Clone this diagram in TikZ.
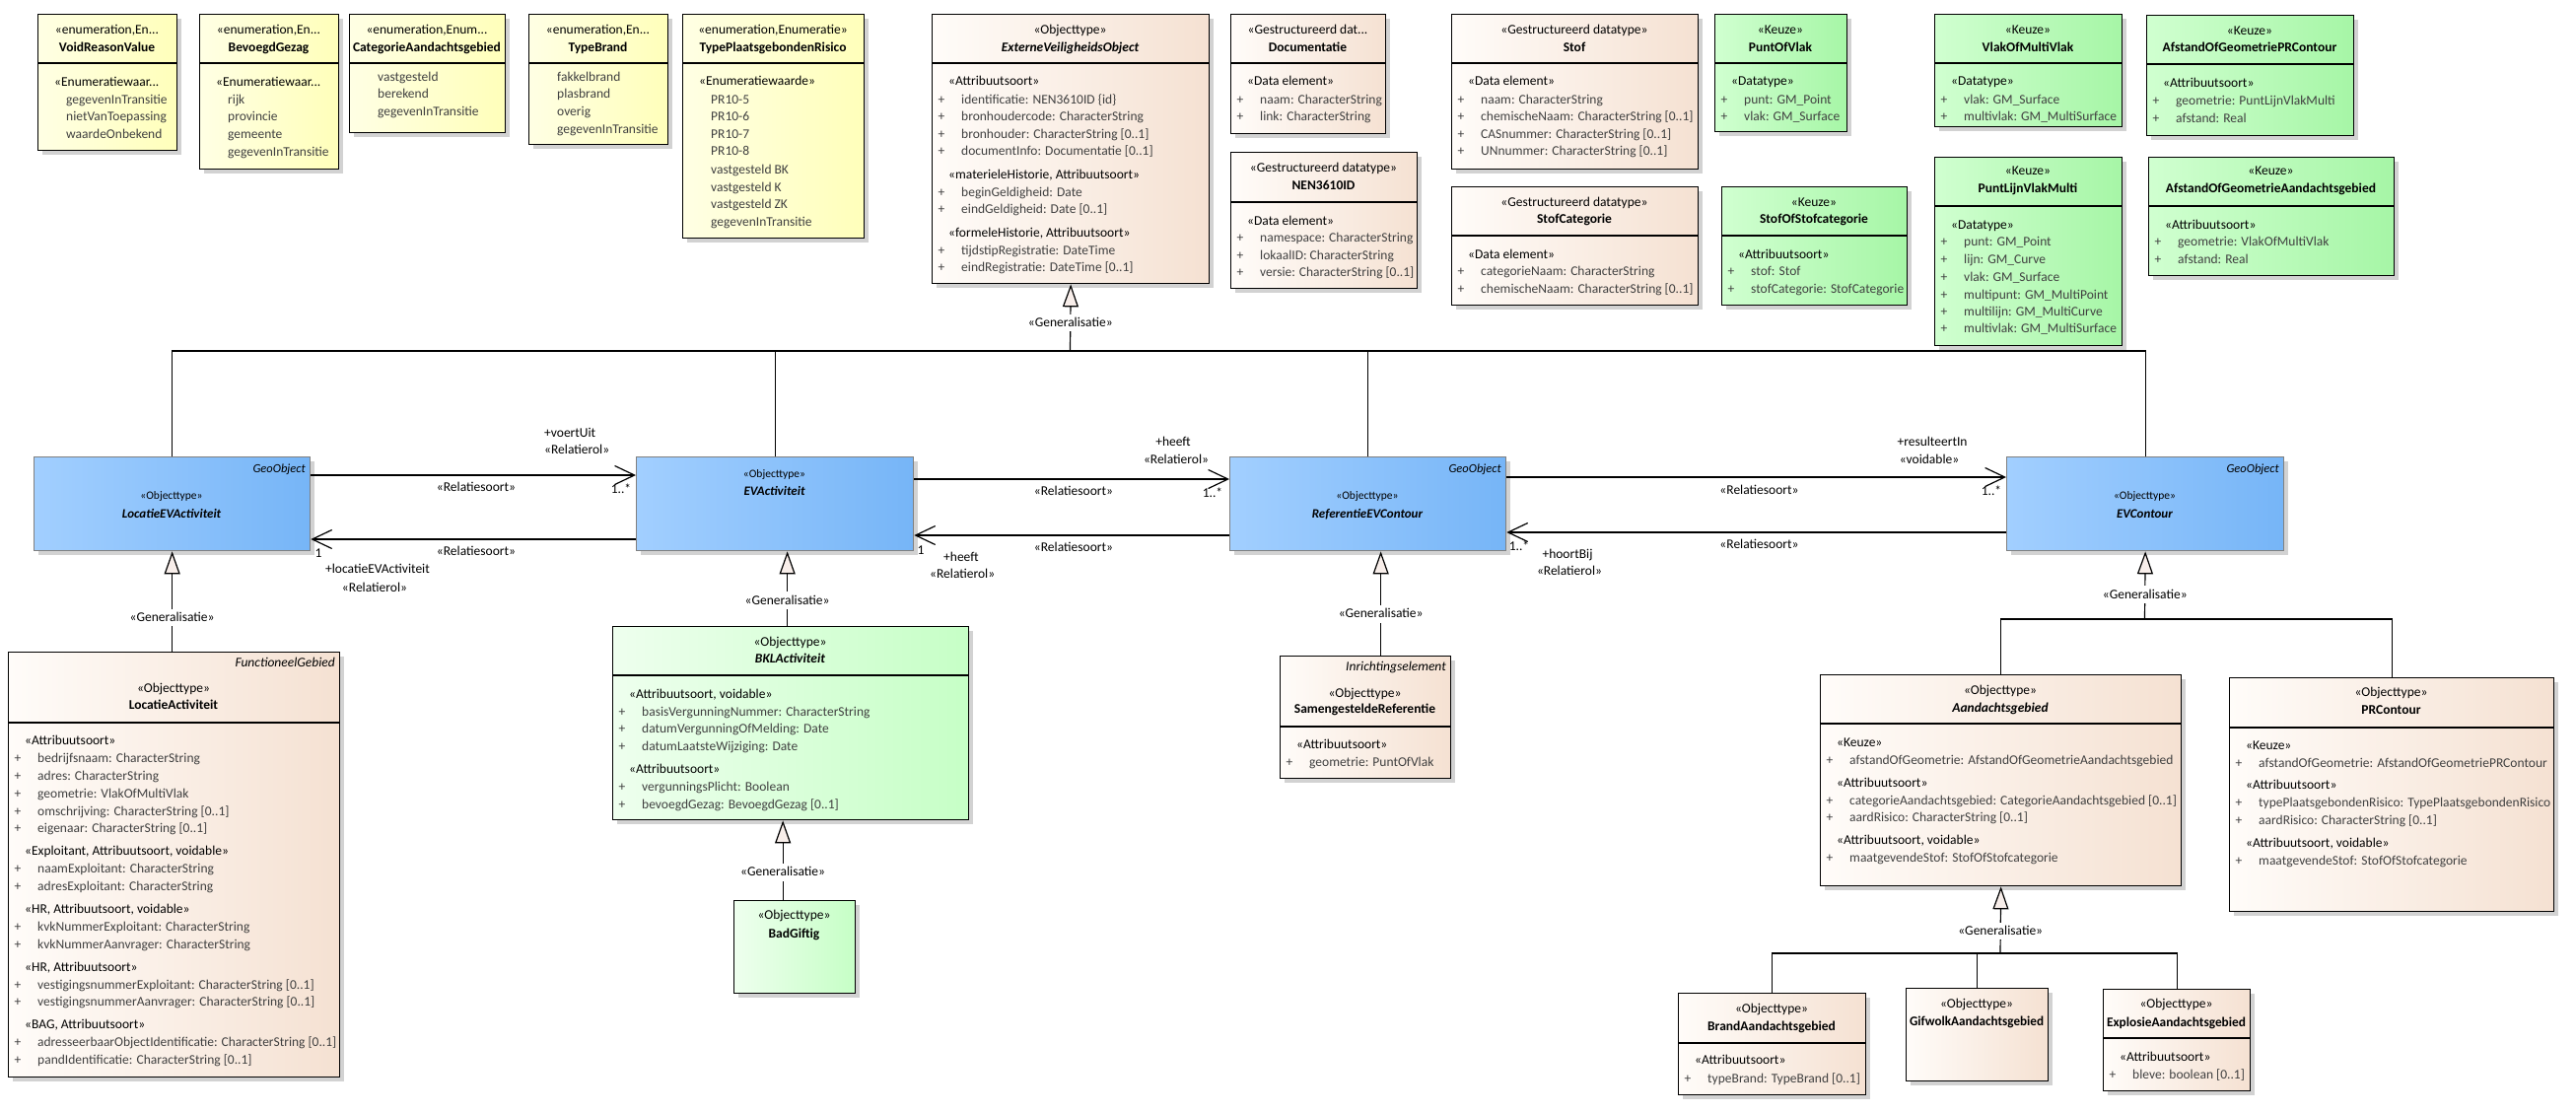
\documentclass[tikz,border=0pt]{standalone}
\usepackage{fontspec}
\setmainfont{Carlito}
\usepackage{graphicx}
\usetikzlibrary{arrows.meta,calc}
\definecolor{enumL}{RGB}{255,255,228}
\definecolor{enumR}{RGB}{255,255,186}
\definecolor{peachL}{RGB}{255,252,249}
\definecolor{peachR}{RGB}{245,225,210}
\definecolor{keuzeL}{RGB}{208,255,208}
\definecolor{keuzeR}{RGB}{166,246,166}
\definecolor{lgreenL}{RGB}{238,255,238}
\definecolor{lgreenR}{RGB}{198,255,198}
\definecolor{blueL}{RGB}{162,207,255}
\definecolor{blueR}{RGB}{118,181,247}
\definecolor{blueB}{RGB}{128,128,128}
\definecolor{shadowc}{RGB}{210,210,210}
\definecolor{attrc}{RGB}{64,64,64}
\definecolor{trifill}{RGB}{248,238,234}
\newcounter{Utc}
\newlength\Ufitw
\newsavebox\Ufitbox
\newcommand\Ufit[2]{\setlength\Ufitw{#1}\sbox\Ufitbox{#2}%
  \ifdim\wd\Ufitbox>\Ufitw\resizebox{\Ufitw}{\height}{\usebox\Ufitbox}\else\usebox\Ufitbox\fi}
\newcommand\Utn[4][]{\stepcounter{Utc}\node[txt,#1] (t\arabic{Utc}) at ({#2},{#3}) {#4};}
\newcommand\Ubox[7]{\xdef\UL{#3}\xdef\UR{#5}%
  \fill[shadowc] ({#3+5},{#4+5}) rectangle ({#5+5},{#6+5});
  \node[#2, anchor=north west, minimum width={#5-#3}, minimum height={#6-#4}] (#1) at (#3,#4) {};
  \if\relax\detokenize{#7}\relax\else\draw[divl] (#3,#7) -- (#5,#7);\fi}
\newcommand\Uhd[3][]{\Utn[anchor=center,#1]{(\UL+\UR)/2}{#2}{\Ufit{\dimexpr\UR pt-\UL pt-8pt\relax}{#3}}}
\newcommand\Ulab[3][]{\Utn[anchor=east,#1]{\UR-4}{#2}{#3}}
\newcommand\Ust[2]{\Utn[anchor=west]{\UL+17}{#1}{\Ufit{\dimexpr\UR pt-\UL pt-20pt\relax}{#2}}}
\newcommand\Uval[2]{\Utn[anchor=west,attr]{\UL+29}{#1}{\Ufit{\dimexpr\UR pt-\UL pt-31pt\relax}{#2}}}
\newcommand\Uatr[2]{\Utn[anchor=center,attr]{\UL+10}{#1}{+}\Utn[anchor=west,attr]{\UL+30}{#1}{\Ufit{\dimexpr\UR pt-\UL pt-33pt\relax}{#2}}}
\tikzset{
  txt/.style={inner sep=0pt, text height=10.6pt, text depth=3pt, font=\fontsize{13.5}{18}\selectfont, text=black},
  attr/.style={text=attrc},
  bst/.style={font=\fontsize{11.5}{14}\selectfont, text height=9pt, text depth=2.6pt},
  btl/.style={font=\fontsize{13}{16}\selectfont, text height=10.2pt, text depth=2.9pt},
  bgo/.style={font=\fontsize{12.5}{15}\selectfont, text height=9.8pt, text depth=2.8pt},
  boxbase/.style={line width=1.3pt, inner sep=0pt},
  enumbox/.style={boxbase, draw=black, left color=enumL, right color=enumR},
  peachbox/.style={boxbase, draw=black, left color=peachL, right color=peachR},
  keuzebox/.style={boxbase, draw=black, left color=keuzeL, right color=keuzeR},
  lgreenbox/.style={boxbase, draw=black, left color=lgreenL, right color=lgreenR},
  bluebox/.style={boxbase, draw=blueB, left color=blueL, right color=blueR},
  divl/.style={line width=1.3pt, draw=black},
  genl/.style={line width=1.2pt},
  gen/.style={line width=1.2pt, -{Triangle[length=23pt,width=16pt,fill=trifill]}},
  assoc/.style={line width=1.2pt, -{Straight Barb[length=20pt,width=19pt]}},
  lbl/.style={txt, fill=white, inner ysep=2pt, inner xsep=1pt},
}
\begin{document}
\begin{tikzpicture}[x=1pt,y=-1pt]
\fill[white] (0,0) rectangle (2613,1128);
\useasboundingbox (0,0) rectangle (2613,1128);
% ---------- enumerations ----------
\Ubox{vrv}{enumbox}{38}{14}{179}{152}{64}
\Uhd{31}{«enumeration,En...}
\Uhd{49}{\bfseries VoidReasonValue}
\Ust{84}{«Enumeratiewaar...}
\Uval{102}{gegevenInTransitie}
\Uval{119}{nietVanToepassing}
\Uval{137}{waardeOnbekend}
\Ubox{bgz}{enumbox}{202}{14}{343}{171}{64}
\Uhd{31}{«enumeration,En...}
\Uhd{49}{\bfseries BevoegdGezag}
\Ust{84}{«Enumeratiewaar...}
\Uval{102}{rijk}
\Uval{119}{provincie}
\Uval{137}{gemeente}
\Uval{155}{gegevenInTransitie}
\Ubox{cag}{enumbox}{354}{14}{512}{134}{64}
\Uhd{31}{«enumeration,Enum...}
\Uhd{49}{\bfseries CategorieAandachtsgebied}
\Uval{79}{vastgesteld}
\Uval{96}{berekend}
\Uval{114}{gegevenInTransitie}
\Ubox{tbr}{enumbox}{536}{14}{677}{146}{64}
\Uhd{31}{«enumeration,En...}
\Uhd{49}{\bfseries TypeBrand}
\Uval{79}{fakkelbrand}
\Uval{96}{plasbrand}
\Uval{114}{overig}
\Uval{132}{gegevenInTransitie}
\Ubox{tpr}{enumbox}{692}{14}{876}{241}{64}
\Uhd{31}{«enumeration,Enumeratie»}
\Uhd{49}{\bfseries TypePlaatsgebondenRisico}
\Ust{83}{«Enumeratiewaarde»}
\Uval{102}{PR10-5}
\Uval{119}{PR10-6}
\Uval{137}{PR10-7}
\Uval{154}{PR10-8}
\Uval{173}{vastgesteld BK}
\Uval{191}{vastgesteld K}
\Uval{208}{vastgesteld ZK}
\Uval{226}{gegevenInTransitie}
% ---------- ExterneVeiligheidsObject ----------
\Ubox{evo}{peachbox}{945}{14}{1226}{287}{64}
\Uhd{31}{«Objecttype»}
\Uhd{49}{\bfseries\itshape ExterneVeiligheidsObject}
\Ust{83}{«Attribuutsoort»}
\Uatr{102}{identificatie: NEN3610ID \{id\}}
\Uatr{119}{bronhoudercode: CharacterString}
\Uatr{137}{bronhouder: CharacterString [0..1]}
\Uatr{154}{documentInfo: Documentatie [0..1]}
\Ust{178}{«materieleHistorie, Attribuutsoort»}
\Uatr{196}{beginGeldigheid: Date}
\Uatr{213}{eindGeldigheid: Date [0..1]}
\Ust{237}{«formeleHistorie, Attribuutsoort»}
\Uatr{255}{tijdstipRegistratie: DateTime}
\Uatr{272}{eindRegistratie: DateTime [0..1]}
% ---------- data types ----------
\Ubox{doc}{peachbox}{1248}{14}{1405}{135}{64}
\Uhd{31}{«Gestructureerd dat...}
\Uhd{49}{\bfseries Documentatie}
\Ust{83}{«Data element»}
\Uatr{102}{naam: CharacterString}
\Uatr{119}{link: CharacterString}
\Ubox{nen}{peachbox}{1248}{154}{1437}{292}{205}
\Uhd{171}{«Gestructureerd datatype»}
\Uhd{189}{\bfseries NEN3610ID}
\Ust{225}{«Data element»}
\Uatr{242}{namespace: CharacterString}
\Uatr{260}{lokaalID: CharacterString}
\Uatr{277}{versie: CharacterString [0..1]}
\Ubox{stof}{peachbox}{1472}{14}{1722}{171}{64}
\Uhd{31}{«Gestructureerd datatype»}
\Uhd{49}{\bfseries Stof}
\Ust{83}{«Data element»}
\Uatr{102}{naam: CharacterString}
\Uatr{119}{chemischeNaam: CharacterString [0..1]}
\Uatr{137}{CASnummer: CharacterString [0..1]}
\Uatr{154}{UNnummer: CharacterString [0..1]}
\Ubox{stofcat}{peachbox}{1472}{189}{1722}{309}{239}
\Uhd{206}{«Gestructureerd datatype»}
\Uhd{223}{\bfseries StofCategorie}
\Ust{259}{«Data element»}
\Uatr{276}{categorieNaam: CharacterString}
\Uatr{294}{chemischeNaam: CharacterString [0..1]}
% ---------- Keuze ----------
\Ubox{pov}{keuzebox}{1739}{14}{1873}{133}{64}
\Uhd{31}{«Keuze»}
\Uhd{49}{\bfseries PuntOfVlak}
\Ust{83}{«Datatype»}
\Uatr{102}{punt: GM\_Point}
\Uatr{119}{vlak: GM\_Surface}
\Ubox{sos}{keuzebox}{1746}{189}{1934}{309}{239}
\Uhd{206}{«Keuze»}
\Uhd{223}{\bfseries StofOfStofcategorie}
\Ust{259}{«Attribuutsoort»}
\Uatr{276}{stof: Stof}
\Uatr{294}{stofCategorie: StofCategorie}
\Ubox{vomv}{keuzebox}{1962}{14}{2152}{128}{64}
\Uhd{31}{«Keuze»}
\Uhd{49}{\bfseries VlakOfMultiVlak}
\Ust{83}{«Datatype»}
\Uatr{102}{vlak: GM\_Surface}
\Uatr{119}{multivlak: GM\_MultiSurface}
\Ubox{plvm}{keuzebox}{1962}{159}{2152}{350}{209}
\Uhd{174}{«Keuze»}
\Uhd{192}{\bfseries PuntLijnVlakMulti}
\Ust{229}{«Datatype»}
\Uatr{246}{punt: GM\_Point}
\Uatr{264}{lijn: GM\_Curve}
\Uatr{282}{vlak: GM\_Surface}
\Uatr{300}{multipunt: GM\_MultiPoint}
\Uatr{317}{multilijn: GM\_MultiCurve}
\Uatr{334}{multivlak: GM\_MultiSurface}
\Ubox{aogpr}{keuzebox}{2177}{15}{2387}{137}{65}
\Uhd{32}{«Keuze»}
\Uhd{49}{\bfseries AfstandOfGeometriePRContour}
\Ust{85}{«Attribuutsoort»}
\Uatr{103}{geometrie: PuntLijnVlakMulti}
\Uatr{121}{afstand: Real}
\Ubox{aogag}{keuzebox}{2179}{159}{2428}{279}{209}
\Uhd{174}{«Keuze»}
\Uhd{192}{\bfseries AfstandOfGeometrieAandachtsgebied}
\Ust{229}{«Attribuutsoort»}
\Uatr{246}{geometrie: VlakOfMultiVlak}
\Uatr{264}{afstand: Real}
% ---------- blue objects ----------
\Ubox{locev}{bluebox}{34}{463}{314}{558}{}
\Ulab[bgo]{476}{\itshape GeoObject}
\Uhd[bst]{503}{«Objecttype»}
\Uhd[btl]{522}{\bfseries\itshape LocatieEVActiviteit}
\Ubox{evact}{bluebox}{645}{463}{926}{558}{}
\Uhd[bst]{481}{«Objecttype»}
\Uhd[btl]{499}{\bfseries\itshape EVActiviteit}
\Ubox{refev}{bluebox}{1247}{463}{1527}{558}{}
\Ulab[bgo]{476}{\itshape GeoObject}
\Uhd[bst]{503}{«Objecttype»}
\Uhd[btl]{522}{\bfseries\itshape ReferentieEVContour}
\Ubox{evcon}{bluebox}{2035}{463}{2316}{558}{}
\Ulab[bgo]{476}{\itshape GeoObject}
\Uhd[bst]{503}{«Objecttype»}
\Uhd[btl]{522}{\bfseries\itshape EVContour}
% ---------- lower objects ----------
\Ubox{locact}{peachbox}{8}{661}{344}{1092}{733}
\Ulab{673}{\itshape FunctioneelGebied}
\Uhd{699}{«Objecttype»}
\Uhd{716}{\bfseries LocatieActiviteit}
\Ust{752}{«Attribuutsoort»}
\Uatr{770}{bedrijfsnaam: CharacterString}
\Uatr{788}{adres: CharacterString}
\Uatr{806}{geometrie: VlakOfMultiVlak}
\Uatr{824}{omschrijving: CharacterString [0..1]}
\Uatr{841}{eigenaar: CharacterString [0..1]}
\Ust{864}{«Exploitant, Attribuutsoort, voidable»}
\Uatr{882}{naamExploitant: CharacterString}
\Uatr{900}{adresExploitant: CharacterString}
\Ust{923}{«HR, Attribuutsoort, voidable»}
\Uatr{941}{kvkNummerExploitant: CharacterString}
\Uatr{959}{kvkNummerAanvrager: CharacterString}
\Ust{982}{«HR, Attribuutsoort»}
\Uatr{1000}{vestigingsnummerExploitant: CharacterString [0..1]}
\Uatr{1017}{vestigingsnummerAanvrager: CharacterString [0..1]}
\Ust{1040}{«BAG, Attribuutsoort»}
\Uatr{1058}{adresseerbaarObjectIdentificatie: CharacterString [0..1]}
\Uatr{1076}{pandIdentificatie: CharacterString [0..1]}
\Ubox{bkl}{lgreenbox}{621}{635}{982}{831}{685}
\Uhd{652}{«Objecttype»}
\Uhd{669}{\bfseries\itshape BKLActiviteit}
\Ust{705}{«Attribuutsoort, voidable»}
\Uatr{723}{basisVergunningNummer: CharacterString}
\Uatr{740}{datumVergunningOfMelding: Date}
\Uatr{758}{datumLaatsteWijziging: Date}
\Ust{781}{«Attribuutsoort»}
\Uatr{799}{vergunningsPlicht: Boolean}
\Uatr{817}{bevoegdGezag: BevoegdGezag [0..1]}
\Ubox{bad}{lgreenbox}{744}{913}{867}{1007}{}
\Uhd{929}{«Objecttype»}
\Uhd{948}{\bfseries BadGiftig}
\Ubox{samref}{peachbox}{1298}{665}{1471}{789}{737}
\Ulab{677}{\itshape Inrichtingselement}
\Uhd{704}{«Objecttype»}
\Uhd{720}{\bfseries SamengesteldeReferentie}
\Ust{756}{«Attribuutsoort»}
\Uatr{774}{geometrie: PuntOfVlak}
\Ubox{aag}{peachbox}{1846}{684}{2212}{898}{734}
\Uhd{701}{«Objecttype»}
\Uhd{719}{\bfseries\itshape Aandachtsgebied}
\Ust{754}{«Keuze»}
\Uatr{772}{afstandOfGeometrie: AfstandOfGeometrieAandachtsgebied}
\Ust{795}{«Attribuutsoort»}
\Uatr{813}{categorieAandachtsgebied: CategorieAandachtsgebied [0..1]}
\Uatr{830}{aardRisico: CharacterString [0..1]}
\Ust{853}{«Attribuutsoort, voidable»}
\Uatr{871}{maatgevendeStof: StofOfStofcategorie}
\Ubox{prc}{peachbox}{2261}{687}{2590}{924}{738}
\Uhd{703}{«Objecttype»}
\Uhd{721}{\bfseries PRContour}
\Ust{757}{«Keuze»}
\Uatr{775}{afstandOfGeometrie: AfstandOfGeometriePRContour}
\Ust{797}{«Attribuutsoort»}
\Uatr{815}{typePlaatsgebondenRisico: TypePlaatsgebondenRisico}
\Uatr{833}{aardRisico: CharacterString [0..1]}
\Ust{856}{«Attribuutsoort, voidable»}
\Uatr{874}{maatgevendeStof: StofOfStofcategorie}
\Ubox{brand}{peachbox}{1702}{1007}{1892}{1110}{1058}
\Uhd{1024}{«Objecttype»}
\Uhd{1042}{\bfseries BrandAandachtsgebied}
\Ust{1076}{«Attribuutsoort»}
\Uatr{1095}{typeBrand: TypeBrand [0..1]}
\Ubox{gif}{peachbox}{1933}{1002}{2077}{1096}{}
\Uhd{1019}{«Objecttype»}
\Uhd{1037}{\bfseries GifwolkAandachtsgebied}
\Ubox{expl}{peachbox}{2133}{1003}{2282}{1106}{1053}
\Uhd{1019}{«Objecttype»}
\Uhd{1038}{\bfseries ExplosieAandachtsgebied}
\Ust{1073}{«Attribuutsoort»}
\Uatr{1091}{bleve: boolean [0..1]}
% ---------- generalisations ----------
\coordinate (gA) at (1085.5,356);
\draw[genl] (locev.north) |- (gA);
\draw[genl] (evact.north) |- (gA);
\draw[genl] (refev.north) |- (gA);
\draw[genl] (evcon.north) |- (gA);
\draw[gen] (gA) -- node[lbl,pos=0.42] (g0) {«Generalisatie»} (evo.south);
\draw[gen] (locev.south |- locact.north) -- node[lbl,pos=0.34] (g1) {«Generalisatie»} (locev.south);
\draw[gen] ([xshift=-3.5pt]bkl.north) -- node[lbl,pos=0.34] (g2) {«Generalisatie»} ([xshift=-3.5pt]bkl.north |- evact.south);
\draw[gen] ([xshift=-12pt]bad.north) -- node[lbl,pos=0.35] (g3) {«Generalisatie»} ([xshift=-12pt]bad.north |- bkl.south);
\draw[gen] ([xshift=15.5pt]samref.north) -- node[lbl,pos=0.40] (g4) {«Generalisatie»} ([xshift=15.5pt]samref.north |- refev.south);
\coordinate (gC) at (2175.5,628);
\draw[genl] (aag.north) |- (gC);
\draw[genl] (prc.north) |- (gC);
\draw[gen] (gC) -- node[lbl,pos=0.36] (g5) {«Generalisatie»} (evcon.south);
\coordinate (gD) at (2029,967);
\draw[genl] (brand.north) |- (gD);
\draw[genl] (gif.north) |- (gD);
\draw[genl] (expl.north) |- (gD);
\draw[gen] (gD) -- node[lbl,pos=0.33] (g6) {«Generalisatie»} (aag.south);
% ---------- associations ----------
\draw[assoc] (locev.east |- 0,482) -- (evact.west |- 0,482);
\draw[assoc] (evact.west |- 0,547) -- (locev.east |- 0,547);
\draw[assoc] (evact.east |- 0,486) -- (refev.west |- 0,486);
\draw[assoc] (refev.west |- 0,543) -- (evact.east |- 0,543);
\draw[assoc] (refev.east |- 0,484) -- (evcon.west |- 0,484);
\draw[assoc] (evcon.west |- 0,540) -- (refev.east |- 0,540);
\node[txt] (a1) at (483,495) {«Relatiesoort»};
\node[txt,anchor=west] (a2) at (552,440) {+voertUit};
\node[txt,anchor=west] (a3) at (552,457) {«Relatierol»};
\node[txt] (a4) at (630,497) {1..*};
\node[txt] (a5) at (483,560) {«Relatiesoort»};
\node[txt] (a6) at (323,562) {1};
\node[txt] (a7) at (383,578) {+locatieEVActiviteit};
\node[txt] (a8) at (380,597) {«Relatierol»};
\node[txt] (a9) at (1089,499) {«Relatiesoort»};
\node[txt] (a10) at (1190,449) {+heeft};
\node[txt] (a11) at (1193,467) {«Relatierol»};
\node[txt] (a12) at (1230,501) {1..*};
\node[txt] (a13) at (1089,556) {«Relatiesoort»};
\node[txt] (a14) at (934,559) {1};
\node[txt,anchor=west] (a15) at (957,566) {+heeft};
\node[txt,anchor=west] (a16) at (943,583) {«Relatierol»};
\node[txt] (a17) at (1784.5,498) {«Relatiesoort»};
\node[txt] (a18) at (1960,449) {+resulteertIn};
\node[txt] (a19) at (1957,467) {«voidable»};
\node[txt] (a20) at (2020,499) {1..*};
\node[txt] (a21) at (1784.5,553) {«Relatiesoort»};
\node[txt] (a22) at (1541,555) {1..*};
\node[txt] (a23) at (1590,563) {+hoortBij};
\node[txt] (a24) at (1592,580) {«Relatierol»};
\end{tikzpicture}
\end{document}
